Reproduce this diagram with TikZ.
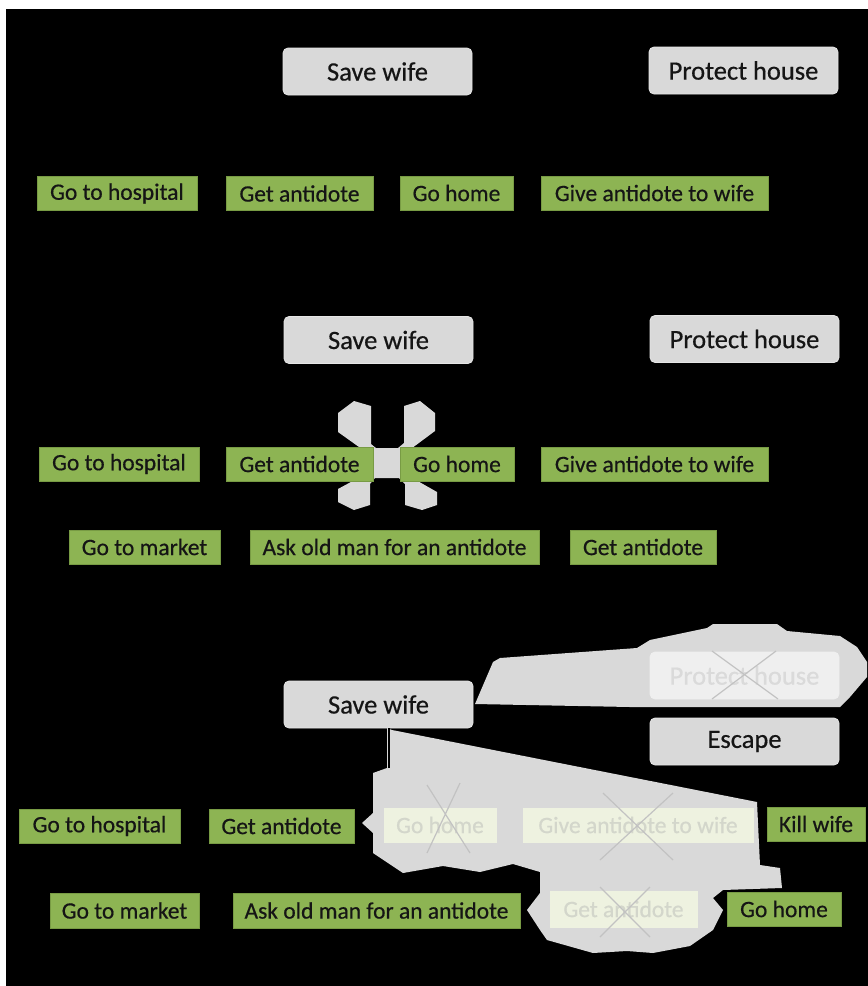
\documentclass[tikz,border=0pt]{standalone}
\usepackage{fontspec}
\setmainfont{Carlito}[FakeBold=0.5]
\definecolor{leaf}{HTML}{8DB453}
\definecolor{leafline}{HTML}{789B44}
\definecolor{boxgray}{HTML}{D9D9D9}
\definecolor{boxgrayline}{HTML}{E6E6E6}
\definecolor{txt}{HTML}{151515}
\definecolor{paleleaf}{HTML}{EEF2E0}
\definecolor{fadetxt}{HTML}{D3D6CB}
\definecolor{palegray}{HTML}{EFEFEF}
\definecolor{fadetxt2}{HTML}{DADADA}
\definecolor{blobgray}{HTML}{D9D9D9}
\definecolor{crossgray}{HTML}{C2C2C2}
\begin{document}
\begin{tikzpicture}[x=1pt,y=-1pt,
  gbox/.style={rectangle, rounded corners=5pt, fill=boxgray, draw=boxgrayline, line width=0.8pt, minimum width=189pt, minimum height=47pt, inner sep=0pt, text=txt, font=\fontsize{26.5}{30}\selectfont},
  grn/.style={rectangle, fill=leaf, draw=leafline, line width=0.8pt, minimum height=34pt, inner sep=0pt, text=txt, font=\fontsize{23.5}{27}\selectfont},
  fgrn/.style={grn, fill=paleleaf, draw=paleleaf, text=fadetxt},
  fgray/.style={gbox, fill=palegray, draw=palegray, text=fadetxt2},
  blob/.style={fill=blobgray},
  cross/.style={draw=crossgray, line width=1.2pt},
  link/.style={draw=black, line width=2pt}]
\useasboundingbox (0,0) rectangle (868,986);
\fill[white] (0,0) rectangle (868,986);
\fill[black] (6,9) rectangle (868,986);

% ---------- panel 1 ----------
\node[gbox] (sw1) at (377.5,71.5) {Save wife};
\node[gbox] (ph1) at (743.5,70.5) {Protect house};
\node[grn, minimum width=160pt] (gh1) at (117,193.5) {Go to hospital};
\node[grn, minimum width=147pt] (ga1) at (299.5,193.5) {Get antidote};
\node[grn, minimum width=113pt] (gm1) at (456.5,193) {Go home};
\node[grn, minimum width=227pt] (gw1) at (654.5,193) {Give antidote to wife};

% ---------- panel 2 ----------
\fill[blob] (338,413) -- (354,401) -- (371,406) -- (371,444) -- (376,448) -- (398,448) -- (404,443) -- (404,406)
  -- (420,401) -- (435,413) -- (435,431) -- (400,457) -- (400,471) -- (437,492) -- (437,505) -- (422,510)
  -- (405,505) -- (405,484) -- (399,478) -- (375,478) -- (370,484) -- (370,505) -- (354,510) -- (338,502)
  -- (338,489) -- (373,470) -- (373,457) -- (338,432) -- cycle;
\node[gbox] (sw2) at (378.5,340) {Save wife};
\node[gbox] (ph2) at (744.5,339) {Protect house};
\node[grn, minimum width=160pt] (gh2) at (119,464) {Go to hospital};
\node[grn, minimum width=147pt] (ga2) at (299.5,464) {Get antidote};
\node[grn, minimum width=114pt] (gm2) at (457,464) {Go home};
\node[grn, minimum width=227pt] (gw2) at (654.5,464) {Give antidote to wife};
\node[grn, minimum width=151pt] (mk2) at (144.5,547) {Go to market};
\node[grn, minimum width=289pt] (ask2) at (394.5,547) {Ask old man for an antidote};
\node[grn, minimum width=146pt] (gb2) at (643,547) {Get antidote};

% ---------- panel 3 ----------
\fill[blob] (475,704) -- (493,662) -- (500,658) -- (637,648) -- (650,640) -- (707,628) -- (713,624) -- (777,624)
  -- (787,631) -- (840,636) -- (857,647) -- (867,662) -- (867,677) -- (850,697) -- (840,707) -- (630,707) -- cycle;
\fill[blob] (387,728) -- (392,730) -- (757,802) -- (760,865) -- (780,868) -- (782,888) -- (723,890) -- (713,898)
  -- (723,910) -- (713,930) -- (690,946) -- (653,953) -- (627,951) -- (593,953) -- (547,940) -- (540,930)
  -- (527,910) -- (540,893) -- (540,872) -- (513,864) -- (480,872) -- (443,866) -- (403,873) -- (373,853)
  -- (373,833) -- (362,823) -- (373,813) -- (373,773) -- (387,768) -- cycle;

\node[gbox] (sw3) at (378.5,704.5) {Save wife};
\node[fgray] (ph3) at (744.5,675.5) {Protect house};
\node[gbox] (esc3) at (744.5,741.5) {Escape};
\node[grn, minimum width=161pt] (gh3) at (99.5,826) {Go to hospital};
\node[grn, minimum width=145pt] (ga3) at (281.5,826) {Get antidote};
\node[fgrn, minimum width=112pt] (gm3) at (440,825) {Go home};
\node[fgrn, minimum width=230pt] (gw3) at (638,825) {Give antidote to wife};
\node[grn, minimum width=98pt] (kw3) at (816,824) {Kill wife};
\node[grn, minimum width=149pt, minimum height=35pt] (mk3) at (124.5,910.5) {Go to market};
\node[grn, minimum width=287pt, minimum height=35pt] (ask3) at (376.5,910.5) {Ask old man for an antidote};
\node[fgrn, minimum width=147pt, minimum height=36pt] (gb3) at (623.5,909) {Get antidote};
\node[grn, minimum width=114pt] (gh3b) at (784,909) {Go home};

% crosses over dropped goals and actions
\draw[cross] (712,699) -- (776,651) (712,651) -- (778,699);
\draw[cross] (427,785) -- (470,853) (460,783) -- (427,853);
\draw[cross] (603,793) -- (673,860) (673,793) -- (600,860);
\draw[cross] (600,887) -- (650,937) (650,887) -- (600,937);

% connector from the third "Save wife"
\coordinate (c3) at (389,768);
\draw[link] (sw3.south -| c3) -- (c3);
\end{tikzpicture}
\end{document}
